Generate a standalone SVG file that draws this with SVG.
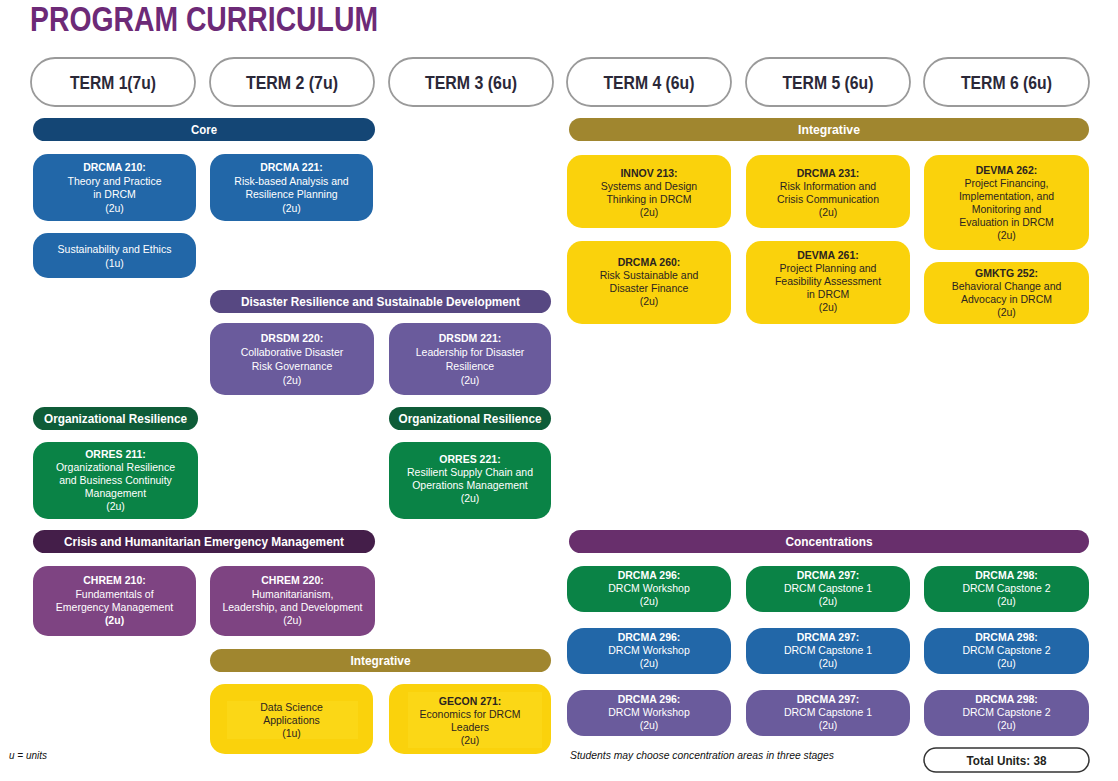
<svg xmlns="http://www.w3.org/2000/svg" width="1118" height="781" viewBox="0 0 1118 781">
<style>
text{font-family:"Liberation Sans",Arial,sans-serif;text-anchor:middle}
.title{font-size:35px;font-weight:bold;fill:#6d2a77;text-anchor:start}
.term rect{fill:#fff;stroke:#9a9a9a;stroke-width:1.8}
.term text{font-size:18px;font-weight:bold;fill:#2b2838}
.bar text{font-size:12px;font-weight:bold;fill:#fff}
.box text{font-size:10.5px;fill:#fff}
.box text.h{font-weight:bold}
.yel text{fill:#2b2420}
.blue{fill:#2267a8}.core{fill:#144675}
.intb{fill:#a0862f}.yell{fill:#fad20c}
.inner{fill:#fbd716}
.drsb{fill:#574882}.drs{fill:#6a5b9c}
.orgb{fill:#0e5c38}.org{fill:#0a8346}
.crib{fill:#441e49}.cri{fill:#7e4482}
.conb{fill:#682f6c}
.note{font-size:10px;font-style:italic;fill:#111;text-anchor:start}
</style>

<text class="title" x="30" y="31" textLength="348" lengthAdjust="spacingAndGlyphs">PROGRAM CURRICULUM</text>

<g id="terms">
<g id="term1" class="term"><rect x="31" y="58" width="164" height="48" rx="24"/><text x="113" y="89" textLength="86" lengthAdjust="spacingAndGlyphs">TERM 1(7u)</text></g>
<g id="term2" class="term"><rect x="210" y="58" width="164" height="48" rx="24"/><text x="292" y="89" textLength="92" lengthAdjust="spacingAndGlyphs">TERM 2 (7u)</text></g>
<g id="term3" class="term"><rect x="389" y="58" width="164" height="48" rx="24"/><text x="471" y="89" textLength="92" lengthAdjust="spacingAndGlyphs">TERM 3 (6u)</text></g>
<g id="term4" class="term"><rect x="567" y="58" width="164" height="48" rx="24"/><text x="649" y="89" textLength="91" lengthAdjust="spacingAndGlyphs">TERM 4 (6u)</text></g>
<g id="term5" class="term"><rect x="746" y="58" width="164" height="48" rx="24"/><text x="828" y="89" textLength="91" lengthAdjust="spacingAndGlyphs">TERM 5 (6u)</text></g>
<g id="term6" class="term"><rect x="924" y="58" width="165" height="48" rx="24"/><text x="1006.5" y="89" textLength="91" lengthAdjust="spacingAndGlyphs">TERM 6 (6u)</text></g>
</g>

<g id="bar-core" class="bar"><rect class="core" x="33" y="118" width="342" height="23" rx="11.5"/><text x="204" y="134" textLength="26" lengthAdjust="spacingAndGlyphs">Core</text></g>
<g id="bar-integrative-top" class="bar"><rect class="intb" x="569" y="118" width="520" height="23" rx="11.5"/><text x="829" y="134" textLength="62" lengthAdjust="spacingAndGlyphs">Integrative</text></g>

<g id="drcma210" class="box"><rect class="blue" x="33" y="154" width="163" height="67" rx="15"/>
<text class="h" x="114.5" y="171">DRCMA 210:</text><text x="114.5" y="184.5">Theory and Practice</text><text x="114.5" y="198">in DRCM</text><text x="114.5" y="211.5">(2u)</text></g>
<g id="drcma221" class="box"><rect class="blue" x="210" y="154" width="163" height="67" rx="15"/>
<text class="h" x="291.5" y="171">DRCMA 221:</text><text x="291.5" y="184.5">Risk-based Analysis and</text><text x="291.5" y="198">Resilience Planning</text><text x="291.5" y="211.5">(2u)</text></g>
<g id="sustainability" class="box"><rect class="blue" x="33" y="233" width="163" height="45" rx="15"/>
<text x="114.5" y="253">Sustainability and Ethics</text><text x="114.5" y="266.5">(1u)</text></g>

<g id="innov213" class="box yel"><rect class="yell" x="567" y="155" width="164" height="73" rx="15"/>
<text class="h" x="649" y="177">INNOV 213:</text><text x="649" y="190">Systems and Design</text><text x="649" y="203">Thinking in DRCM</text><text x="649" y="216">(2u)</text></g>
<g id="drcma231" class="box yel"><rect class="yell" x="746" y="155" width="164" height="73" rx="15"/>
<text class="h" x="828" y="177">DRCMA 231:</text><text x="828" y="190">Risk Information and</text><text x="828" y="203">Crisis Communication</text><text x="828" y="216">(2u)</text></g>
<g id="devma262" class="box yel"><rect class="yell" x="924" y="155" width="165" height="95" rx="15"/>
<text class="h" x="1006.5" y="174">DEVMA 262:</text><text x="1006.5" y="187">Project Financing,</text><text x="1006.5" y="200">Implementation, and</text><text x="1006.5" y="213">Monitoring and</text><text x="1006.5" y="226">Evaluation in DRCM</text><text x="1006.5" y="239">(2u)</text></g>
<g id="drcma260" class="box yel"><rect class="yell" x="567" y="241" width="164" height="83" rx="15"/>
<text class="h" x="649" y="266">DRCMA 260:</text><text x="649" y="279">Risk Sustainable and</text><text x="649" y="292">Disaster Finance</text><text x="649" y="305">(2u)</text></g>
<g id="devma261" class="box yel"><rect class="yell" x="746" y="241" width="164" height="83" rx="15"/>
<text class="h" x="828" y="259">DEVMA 261:</text><text x="828" y="272">Project Planning and</text><text x="828" y="285">Feasibility Assessment</text><text x="828" y="298">in DRCM</text><text x="828" y="311">(2u)</text></g>
<g id="gmktg252" class="box yel"><rect class="yell" x="924" y="262" width="165" height="62" rx="15"/>
<text class="h" x="1006.5" y="277">GMKTG 252:</text><text x="1006.5" y="290">Behavioral Change and</text><text x="1006.5" y="303">Advocacy in DRCM</text><text x="1006.5" y="316">(2u)</text></g>

<g id="bar-drsd" class="bar"><rect class="drsb" x="210" y="290" width="341" height="23" rx="11.5"/><text x="380.5" y="306" textLength="279" lengthAdjust="spacingAndGlyphs">Disaster Resilience and Sustainable Development</text></g>
<g id="drsdm220" class="box"><rect class="drs" x="210" y="323" width="164" height="72" rx="15"/>
<text class="h" x="292" y="342">DRSDM 220:</text><text x="292" y="356">Collaborative Disaster</text><text x="292" y="370">Risk Governance</text><text x="292" y="384">(2u)</text></g>
<g id="drsdm221" class="box"><rect class="drs" x="389" y="323" width="162" height="72" rx="15"/>
<text class="h" x="470" y="342">DRSDM 221:</text><text x="470" y="356">Leadership for Disaster</text><text x="470" y="370">Resilience</text><text x="470" y="384">(2u)</text></g>

<g id="bar-org-left" class="bar"><rect class="orgb" x="33" y="407" width="165" height="23" rx="11.5"/><text x="115.5" y="423" textLength="143" lengthAdjust="spacingAndGlyphs">Organizational Resilience</text></g>
<g id="bar-org-right" class="bar"><rect class="orgb" x="389" y="407" width="162" height="23" rx="11.5"/><text x="470" y="423" textLength="143" lengthAdjust="spacingAndGlyphs">Organizational Resilience</text></g>
<g id="orres211" class="box"><rect class="org" x="33" y="442" width="165" height="77" rx="15"/>
<text class="h" x="115.5" y="458">ORRES 211:</text><text x="115.5" y="471">Organizational Resilience</text><text x="115.5" y="484">and Business Continuity</text><text x="115.5" y="497">Management</text><text x="115.5" y="510">(2u)</text></g>
<g id="orres221" class="box"><rect class="org" x="389" y="442" width="162" height="77" rx="15"/>
<text class="h" x="470" y="463">ORRES 221:</text><text x="470" y="476">Resilient Supply Chain and</text><text x="470" y="489">Operations Management</text><text x="470" y="502">(2u)</text></g>

<g id="bar-crisis" class="bar"><rect class="crib" x="33" y="530" width="342" height="23" rx="11.5"/><text x="204" y="546" textLength="280" lengthAdjust="spacingAndGlyphs">Crisis and Humanitarian Emergency Management</text></g>
<g id="chrem210" class="box"><rect class="cri" x="33" y="566" width="163" height="70" rx="15"/>
<text class="h" x="114.5" y="584">CHREM 210:</text><text x="114.5" y="597.5">Fundamentals of</text><text x="114.5" y="611">Emergency Management</text><text class="h" x="114.5" y="624">(2u)</text></g>
<g id="chrem220" class="box"><rect class="cri" x="210" y="566" width="165" height="70" rx="15"/>
<text class="h" x="292.5" y="584">CHREM 220:</text><text x="292.5" y="597.5">Humanitarianism,</text><text x="292.5" y="611">Leadership, and Development</text><text x="292.5" y="624">(2u)</text></g>

<g id="bar-integrative-bottom" class="bar"><rect class="intb" x="210" y="649" width="341" height="23" rx="11.5"/><text x="380.5" y="665" textLength="60" lengthAdjust="spacingAndGlyphs">Integrative</text></g>
<g id="datascience" class="box yel"><rect class="yell" x="210" y="684" width="163" height="70" rx="15"/><rect class="inner" x="227" y="701" width="131" height="38"/>
<text x="291.5" y="711">Data Science</text><text x="291.5" y="724">Applications</text><text x="291.5" y="737">(1u)</text></g>
<g id="gecon271" class="box yel"><rect class="yell" x="389" y="684" width="162" height="70" rx="15"/><rect class="inner" x="408" y="692" width="134" height="56"/>
<text class="h" x="470" y="705">GECON 271:</text><text x="470" y="718">Economics for DRCM</text><text x="470" y="731">Leaders</text><text x="470" y="744">(2u)</text></g>

<g id="bar-concentrations" class="bar"><rect class="conb" x="569" y="530" width="520" height="23" rx="11.5"/><text x="829" y="546" textLength="87" lengthAdjust="spacingAndGlyphs">Concentrations</text></g>

<g id="c1-296" class="box"><rect class="org" x="567" y="566" width="164" height="46" rx="17"/><text class="h" x="649" y="579">DRCMA 296:</text><text x="649" y="592">DRCM Workshop</text><text x="649" y="605">(2u)</text></g>
<g id="c1-297" class="box"><rect class="org" x="746" y="566" width="164" height="46" rx="17"/><text class="h" x="828" y="579">DRCMA 297:</text><text x="828" y="592">DRCM Capstone 1</text><text x="828" y="605">(2u)</text></g>
<g id="c1-298" class="box"><rect class="org" x="924" y="566" width="165" height="46" rx="17"/><text class="h" x="1006.5" y="579">DRCMA 298:</text><text x="1006.5" y="592">DRCM Capstone 2</text><text x="1006.5" y="605">(2u)</text></g>

<g id="c2-296" class="box"><rect class="blue" x="567" y="628" width="164" height="46" rx="17"/><text class="h" x="649" y="641">DRCMA 296:</text><text x="649" y="654">DRCM Workshop</text><text x="649" y="667">(2u)</text></g>
<g id="c2-297" class="box"><rect class="blue" x="746" y="628" width="164" height="46" rx="17"/><text class="h" x="828" y="641">DRCMA 297:</text><text x="828" y="654">DRCM Capstone 1</text><text x="828" y="667">(2u)</text></g>
<g id="c2-298" class="box"><rect class="blue" x="924" y="628" width="165" height="46" rx="17"/><text class="h" x="1006.5" y="641">DRCMA 298:</text><text x="1006.5" y="654">DRCM Capstone 2</text><text x="1006.5" y="667">(2u)</text></g>

<g id="c3-296" class="box"><rect class="drs" x="567" y="690" width="164" height="46" rx="17"/><text class="h" x="649" y="703">DRCMA 296:</text><text x="649" y="716">DRCM Workshop</text><text x="649" y="729">(2u)</text></g>
<g id="c3-297" class="box"><rect class="drs" x="746" y="690" width="164" height="46" rx="17"/><text class="h" x="828" y="703">DRCMA 297:</text><text x="828" y="716">DRCM Capstone 1</text><text x="828" y="729">(2u)</text></g>
<g id="c3-298" class="box"><rect class="drs" x="924" y="690" width="165" height="46" rx="17"/><text class="h" x="1006.5" y="703">DRCMA 298:</text><text x="1006.5" y="716">DRCM Capstone 2</text><text x="1006.5" y="729">(2u)</text></g>

<text class="note" x="9" y="759">u = units</text>
<text class="note" x="570" y="759" textLength="264" lengthAdjust="spacingAndGlyphs">Students may choose concentration areas in three stages</text>

<g id="total"><rect x="924" y="748" width="165" height="24" rx="12" fill="#fff" stroke="#333" stroke-width="1.5"/><text x="1006.5" y="765" font-size="12.5" font-weight="bold" fill="#231f20" textLength="80" lengthAdjust="spacingAndGlyphs">Total Units: 38</text></g>
</svg>
